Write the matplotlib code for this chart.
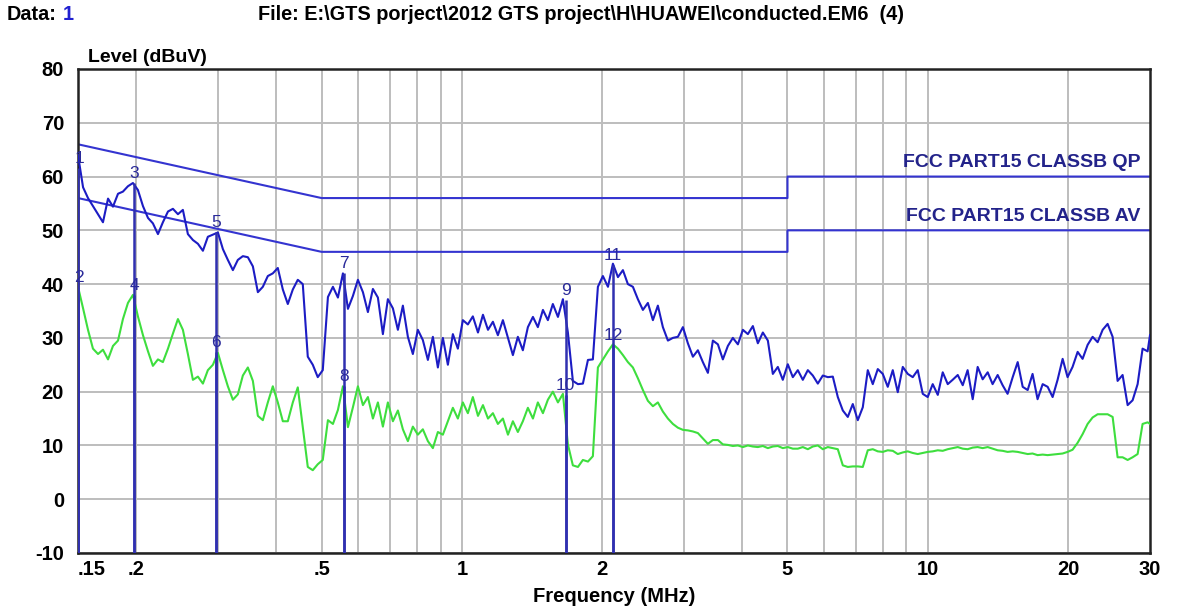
import matplotlib
matplotlib.use("Agg")
import matplotlib.pyplot as plt
from matplotlib.ticker import FixedLocator, NullFormatter

plt.rcParams['font.family'] = ['Liberation Sans', 'DejaVu Sans']
plt.rcParams['font.weight'] = 'bold'

# ---------------- data ----------------
freq_mhz = [
    0.1500, 0.1538, 0.1576, 0.1615, 0.1656, 0.1697, 0.1740, 0.1783, 0.1828, 0.1873,
    0.1920, 0.1968, 0.2017, 0.2068, 0.2120, 0.2172, 0.2227, 0.2282, 0.2340, 0.2398,
    0.2458, 0.2519, 0.2582, 0.2647, 0.2713, 0.2781, 0.2850, 0.2922, 0.2995, 0.3070,
    0.3146, 0.3225, 0.3305, 0.3388, 0.3473, 0.3560, 0.3649, 0.3740, 0.3833, 0.3929,
    0.4027, 0.4128, 0.4231, 0.4337, 0.4445, 0.4556, 0.4670, 0.4787, 0.4906, 0.5029,
    0.5159, 0.5288, 0.5420, 0.5556, 0.5695, 0.5837, 0.5983, 0.6133, 0.6286, 0.6443,
    0.6604, 0.6769, 0.6938, 0.7112, 0.7290, 0.7472, 0.7659, 0.7850, 0.8046, 0.8247,
    0.8455, 0.8666, 0.8883, 0.9105, 0.9333, 0.9566, 0.9805, 1.0050, 1.0302, 1.0559,
    1.083, 1.110, 1.138, 1.166, 1.195, 1.225, 1.256, 1.287, 1.319, 1.352,
    1.386, 1.421, 1.456, 1.493, 1.530, 1.568, 1.608, 1.648, 1.689, 1.731,
    1.775, 1.819, 1.865, 1.911, 1.959, 2.008, 2.059, 2.110, 2.163, 2.217,
    2.272, 2.329, 2.387, 2.447, 2.508, 2.571, 2.635, 2.701, 2.769, 2.838,
    2.909, 2.982, 3.056, 3.133, 3.211, 3.291, 3.374, 3.458, 3.545, 3.633,
    3.724, 3.817, 3.913, 4.011, 4.111, 4.214, 4.319, 4.427, 4.538, 4.651,
    4.767, 4.886, 5.008, 5.134, 5.262, 5.394, 5.529, 5.667, 5.809, 5.954,
    6.103, 6.256, 6.412, 6.573, 6.737, 6.905, 7.078, 7.255, 7.436, 7.622,
    7.813, 8.008, 8.208, 8.414, 8.624, 8.840, 9.061, 9.287, 9.519, 9.757,
    10.00, 10.25, 10.51, 10.77, 11.04, 11.31, 11.60, 11.89, 12.18, 12.49,
    12.80, 13.12, 13.45, 13.78, 14.13, 14.48, 14.84, 15.22, 15.60, 15.99,
    16.39, 16.79, 17.21, 17.65, 18.09, 18.54, 19.00, 19.48, 19.96, 20.46,
    20.98, 21.50, 22.04, 22.59, 23.16, 23.74, 24.33, 24.94, 25.56, 26.20,
    26.86, 27.53, 28.22, 28.92, 29.65, 30.00,
]

qp_dbuv = [
    64.0, 58.0, 56.0, 54.5, 53.0, 51.5, 55.9, 54.4, 56.8, 57.2,
    58.2, 58.8, 57.5, 54.5, 52.3, 51.3, 49.3, 51.5, 53.5, 54.0,
    53.0, 53.8, 49.3, 48.2, 47.5, 46.2, 48.8, 49.2, 49.6, 46.5,
    44.5, 42.6, 44.5, 45.2, 45.0, 43.3, 38.5, 39.5, 41.5, 42.0,
    43.0, 39.0, 36.3, 39.0, 40.8, 40.0, 26.5, 25.0, 22.7, 24.0,
    37.6, 39.5, 37.5, 42.0, 35.4, 37.8, 40.8, 38.5, 34.8, 39.1,
    37.5, 30.7, 37.2, 35.5, 31.5, 36.0, 30.2, 27.0, 31.5, 29.6,
    25.9, 30.2, 24.5, 30.0, 25.0, 30.7, 28.0, 33.3, 32.5, 34.0,
    31.0, 34.3, 31.5, 33.0, 30.5, 33.3, 30.0, 26.8, 30.2, 27.7,
    32.0, 33.9, 32.0, 35.2, 33.3, 36.3, 33.9, 37.2, 31.0, 22.0,
    21.4, 21.5, 25.9, 26.0, 39.5, 41.5, 39.5, 43.8, 41.3, 42.6,
    40.0, 39.5, 37.2, 35.2, 36.5, 33.3, 36.0, 32.0, 29.5, 30.0,
    30.2, 32.0, 29.0, 26.5, 27.7, 25.5, 23.5, 29.5, 28.8, 26.0,
    28.5, 30.0, 28.8, 31.5, 30.7, 32.2, 29.0, 31.0, 29.5, 23.3,
    24.6, 22.2, 25.1, 22.7, 24.0, 22.2, 24.0, 23.0, 21.5, 23.0,
    22.7, 22.8, 19.0, 16.5, 15.3, 17.7, 14.7, 17.1, 24.0, 21.4,
    24.2, 23.3, 20.9, 24.0, 19.9, 24.6, 23.3, 22.7, 24.0, 19.6,
    19.0, 21.4, 19.4, 23.6, 21.4, 22.2, 23.1, 21.2, 24.0, 18.6,
    24.6, 22.3, 23.6, 21.4, 23.1, 21.2, 19.6, 22.7, 25.5, 20.9,
    20.3, 23.3, 18.6, 21.4, 20.9, 19.0, 22.2, 26.1, 22.7, 24.6,
    27.4, 26.1, 28.7, 30.2, 29.2, 31.5, 32.6, 30.2, 22.0, 23.1,
    17.5, 18.4, 21.4, 28.0, 27.5, 30.5,
]

av_dbuv = [
    39.5, 35.5, 31.5, 28.0, 27.0, 27.8, 26.0, 28.5, 29.5, 33.5,
    36.5, 38.0, 34.0, 30.5, 27.5, 24.8, 26.0, 25.5, 28.0, 30.8,
    33.5, 31.5, 27.0, 22.2, 22.8, 21.5, 24.0, 25.0, 27.2, 24.0,
    21.0, 18.5, 19.5, 23.0, 24.5, 22.0, 15.5, 14.7, 18.0, 21.0,
    18.0, 14.5, 14.5, 18.0, 20.8, 13.4, 6.0, 5.4, 6.5, 7.3,
    14.7, 14.0, 16.6, 21.0, 13.4, 17.1, 21.0, 17.5, 19.0, 15.0,
    18.0, 13.5, 18.0, 14.5, 16.5, 13.0, 10.8, 13.5, 12.0, 13.0,
    10.8, 9.5, 12.5, 12.0, 14.5, 17.0, 15.0, 18.0, 16.0, 19.0,
    15.5, 17.5, 15.0, 16.0, 14.0, 15.0, 12.0, 14.5, 12.5, 14.5,
    17.0, 15.0, 18.0, 16.0, 18.5, 20.0, 18.0, 19.6, 10.2, 6.3,
    6.0, 7.3, 7.0, 8.0, 24.5, 26.0, 27.5, 28.8, 28.0, 26.8,
    25.5, 24.5, 22.5, 20.3, 18.3, 17.3, 18.0, 16.3, 15.0, 14.0,
    13.3, 12.9, 12.8, 12.6, 12.3, 11.3, 10.3, 11.0, 11.0, 10.2,
    10.1, 9.9, 10.0, 9.7, 10.0, 9.8, 9.7, 9.9, 9.5, 9.8,
    9.9, 9.5, 9.7, 9.4, 9.4, 9.7, 9.3, 9.8, 10.0, 9.3,
    9.7, 9.5, 9.3, 6.3, 6.0, 6.1, 6.1, 6.0, 9.1, 9.3,
    8.9, 8.8, 9.1, 9.0, 8.4, 8.7, 8.9, 8.6, 8.4, 8.6,
    8.8, 8.9, 9.1, 9.0, 9.3, 9.5, 9.7, 9.4, 9.3, 9.6,
    9.7, 9.5, 9.7, 9.4, 9.1, 9.0, 8.8, 8.9, 8.8, 8.6,
    8.4, 8.5, 8.2, 8.3, 8.2, 8.3, 8.4, 8.5, 8.8, 9.2,
    10.5, 12.1, 14.0, 15.2, 15.8, 15.8, 15.8, 15.3, 7.8, 7.8,
    7.3, 7.8, 8.4, 14.0, 14.3, 14.0,
]

limit_freq = [0.15, 0.5, 0.5, 5.0, 5.0, 30.0]
limit_qp = [66, 56, 56, 56, 60, 60]
limit_av = [56, 46, 46, 46, 50, 50]
limit_names = ["FCC PART15 CLASSB QP", "FCC PART15 CLASSB AV"]

marker_ids = ["1", "2", "3", "4", "5", "6", "7", "8", "9", "10", "11", "12"]
marker_freq = [0.150, 0.150, 0.198, 0.198, 0.297, 0.297, 0.559, 0.559, 1.67, 1.67, 2.11, 2.11]
marker_level = [61.5, 39.5, 58.8, 38.0, 49.6, 27.4, 42.0, 21.0, 37.0, 19.3, 43.5, 28.6]

x_tick_values = [0.15, 0.2, 0.5, 1, 2, 5, 10, 20, 30]
x_tick_labels = [".15", ".2", ".5", "1", "2", "5", "10", "20", "30"]
x_grid_values = [0.2, 0.3, 0.4, 0.5, 0.6, 0.7, 0.8, 0.9, 1, 2, 3, 4, 5, 6, 7, 8, 9, 10, 20]
y_tick_values = [-10, 0, 10, 20, 30, 40, 50, 60, 70, 80]

# ---------------- figure ----------------
fig = plt.figure(figsize=(11.8, 6.1), dpi=100)
ax = fig.add_axes([78 / 1180, 1 - 553 / 610, (1150 - 78) / 1180, (553 - 69) / 610])

trace_blue = "#1c1cc4"
limit_blue = "#3434d0"
green = "#3ede3e"
grid_col = "#bdbdbd"

ax.set_xscale("log")
ax.set_xlim(0.15, 30)
ax.set_ylim(-10, 80)

for xv in x_grid_values:
    ax.axvline(xv, color=grid_col, lw=1.4, zorder=0)
for yv in y_tick_values:
    ax.axhline(yv, color=grid_col, lw=1.4, zorder=0)

ax.plot(limit_freq, limit_qp, color=limit_blue, lw=1.5, zorder=2)
ax.plot(limit_freq, limit_av, color=limit_blue, lw=1.5, zorder=2)

ax.plot(freq_mhz, av_dbuv, color=green, lw=1.5, zorder=3)
ax.plot(freq_mhz, qp_dbuv, color=trace_blue, lw=1.5, zorder=4)

ax.vlines(marker_freq, -10, marker_level, color="#3030b0", lw=1.8, zorder=5)
for mid, mf, ml in zip(marker_ids, marker_freq, marker_level):
    ax.annotate(mid, (mf, ml), xytext=(1 if mf < 0.16 else 0, 1.5), textcoords="offset points",
                ha="center", va="bottom", fontsize=12.5, fontweight="normal",
                color="#2a2a9a", zorder=6)

ax.text(28.6, 61.0, limit_names[0], ha="right", va="bottom", fontsize=14,
        fontweight="bold", color="#23238a")
ax.text(28.6, 51.0, limit_names[1], ha="right", va="bottom", fontsize=14,
        fontweight="bold", color="#23238a")

ax.xaxis.set_major_locator(FixedLocator(x_tick_values))
ax.set_xticklabels(x_tick_labels)
ax.xaxis.set_minor_formatter(NullFormatter())
ax.xaxis.set_minor_locator(FixedLocator([]))
ax.set_yticks(y_tick_values)
ax.set_yticklabels([str(v) for v in y_tick_values])
ax.tick_params(axis="both", length=0, labelsize=14.5)
ax.tick_params(axis="y", pad=10)
ax.tick_params(axis="x", pad=5)
for lab in ax.get_xticklabels() + ax.get_yticklabels():
    lab.set_fontweight("bold")
ax.get_xticklabels()[0].set_horizontalalignment("left")

for sp in ax.spines.values():
    sp.set_color("#222222")
    sp.set_linewidth(1.8)

fig.text(88 / 1180, 1 - 57 / 610, "Level (dBuV)", ha="left", va="center",
         fontsize=14, fontweight="bold")
fig.text(614 / 1180, 1 - 596 / 610, "Frequency (MHz)", ha="center", va="center",
         fontsize=14.5, fontweight="bold")
fig.text(7 / 1180, 1 - 15 / 610, "Data:", ha="left", va="center", fontsize=14.3,
         fontweight="bold")
fig.text(63 / 1180, 1 - 15 / 610, "1", ha="left", va="center", fontsize=14.3,
         fontweight="bold", color="#2020d0")
fig.text(258 / 1180, 1 - 15 / 610,
         "File: E:\\GTS porject\\2012 GTS project\\H\\HUAWEI\\conducted.EM6  (4)",
         ha="left", va="center", fontsize=14.3, fontweight="bold")

fig.savefig("out.png", dpi=100, facecolor="white")
